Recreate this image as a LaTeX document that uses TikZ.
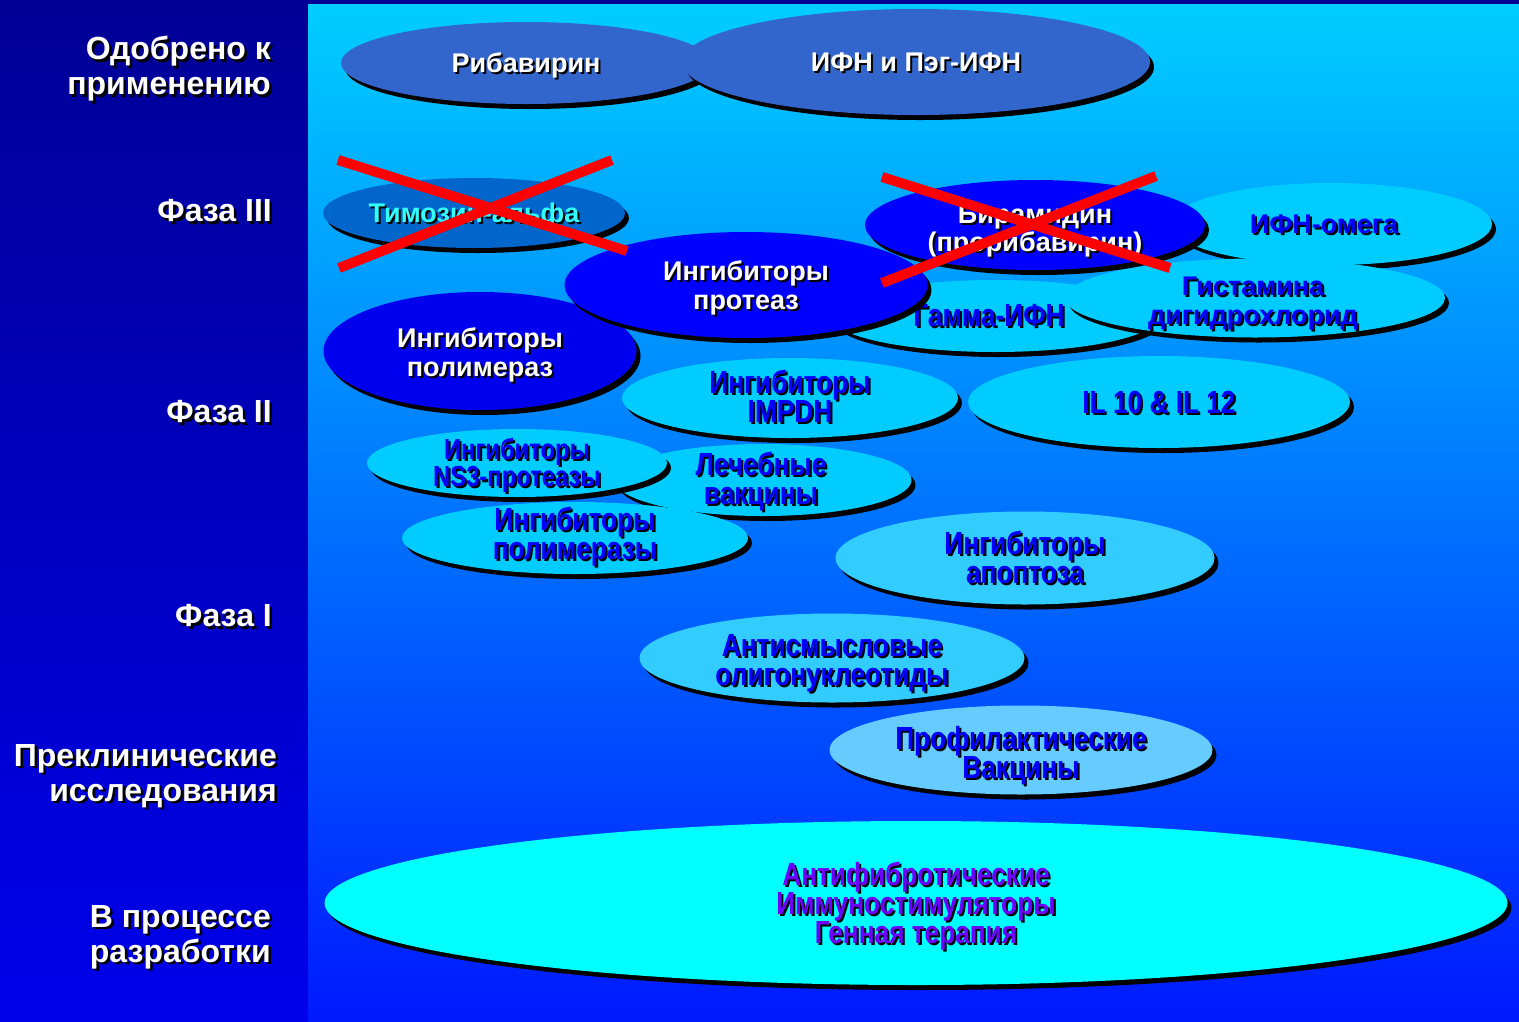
\documentclass[tikz,border=0pt]{standalone}
\usepackage{fontspec}
\setmainfont{Liberation Sans}
\newfontfamily\narrowfam{Liberation Sans}[FakeStretch=0.82]
\usetikzlibrary{shapes.geometric,shadows}
\definecolor{navyT}{RGB}{0,0,150}
\definecolor{navyB}{RGB}{0,0,235}
\definecolor{bgT}{RGB}{0,206,255}
\definecolor{bgM}{RGB}{0,140,255}
\definecolor{bgB}{RGB}{0,25,255}
\definecolor{ribacol}{RGB}{51,102,204}
\definecolor{thymcol}{RGB}{0,102,204}
\definecolor{deepb}{RGB}{0,0,255}
\definecolor{polb}{RGB}{0,0,238}
\definecolor{cyA}{RGB}{0,204,255}
\definecolor{cyB}{RGB}{51,204,255}
\definecolor{cyC}{RGB}{102,204,255}
\definecolor{aqua}{RGB}{0,255,255}
\definecolor{violettext}{RGB}{110,0,255}
\definecolor{tcyan}{RGB}{51,255,255}
\definecolor{xred}{RGB}{255,0,0}
\newcommand\wfont{\fontsize{27}{29}\selectfont\bfseries}
\newcommand\nfont{\narrowfam\fontsize{32}{29}\selectfont\bfseries}
\newcommand\nsfont{\narrowfam\fontsize{29}{25}\selectfont\bfseries}
\newcommand\sidefont{\fontsize{32}{35}\selectfont\bfseries}
\tikzset{
  blobshape/.style={ellipse, inner sep=0pt, outer sep=0pt,
    drop shadow={shadow xshift=4pt, shadow yshift=-5pt, fill=black, opacity=1}},
  lbl/.style={align=center, inner sep=0pt},
  side/.style={align=right, inner sep=0pt, anchor=east, font=\sidefont},
  cross/.style={xred, line width=10pt},
  wtxt/.style={text=white, font=\wfont},
  btxt/.style={text=deepb, font=\wfont},
  ntxt/.style={text=deepb, font=\nfont},
}
% #1 name, #2 cx, #3 cy, #4 width, #5 height, #6 fill, #7 text style, #8 text, #9 text offset
\newcommand\drugoval[9]{%
  \node[blobshape, fill=#6, minimum width=#4pt, minimum height=#5pt] (#1) at (#2,#3) {};
  \coordinate (#1-c) at ([shift={(#9)}]#1.center);
  \node[lbl, #7, text=black] (#1-s) at ([xshift=2pt,yshift=-2pt]#1-c) {#8};
  \node[lbl, #7] (#1-t) at (#1-c) {#8};}
\newcommand\sidelab[4]{%
  \node[side, text=black] (#1-s) at ([xshift=2.5pt,yshift=-2.5pt]#2,#3) {#4};
  \node[side, text=white] (#1) at (#2,#3) {#4};}
\begin{document}
\begin{tikzpicture}[x=1pt,y=-1pt]
\useasboundingbox (0,0) rectangle (1519,1021);
\shade[top color=navyT, bottom color=navyB] (0,0) rectangle (308,1021);
\shade[top color=bgT, middle color=bgM, bottom color=bgB] (308,4) rectangle (1519,1021);
\fill[navyT] (308,0) rectangle (1519,4);

% side labels
\sidelab{approved}{271}{69}{Одобрено к\\применению}
\sidelab{ph3}{272}{211}{Фаза III}
\sidelab{ph2}{272}{412}{Фаза II}
\sidelab{ph1}{272}{616}{Фаза I}
\sidelab{precl}{277}{776}{Преклинические\\исследования}
\sidelab{dev}{271}{937}{В процессе\\разработки}

% ellipses, back to front
\drugoval{rib}{526}{63}{370}{82}{ribacol}{wtxt}{Рибавирин}{0,2}
\drugoval{ifn}{916}{62}{468}{106}{ribacol}{wtxt}{ИФН и Пэг-ИФН}{0,0}
\drugoval{omega}{1331}{224}{322}{82}{cyA}{btxt}{ИФН-омега}{-7,0}
\drugoval{gamma}{995}{316}{330}{72}{cyA}{ntxt}{Гамма-ИФН}{-6,0}
\drugoval{hist}{1255}{298}{380}{79}{cyA}{btxt}{Гистамина\\дигидрохлорид}{-2,6}
\drugoval{bira}{1035}{225}{340}{90}{deepb}{wtxt,font=\fontsize{27}{28}\selectfont\bfseries}{Бирамидин\\(прорибавирин)}{0,6}
\drugoval{thym}{474}{213}{302}{70}{thymcol}{wtxt,text=tcyan}{Тимозин-альфа}{0,3}
\drugoval{impdh}{790}{398}{336}{80}{cyA}{ntxt}{Ингибиторы\\IMPDH}{0,-2}
\drugoval{il}{1159}{402}{382}{92}{cyA}{ntxt}{IL 10 \& IL 12}{0,0}
\drugoval{pol}{480}{351}{313}{118}{polb}{wtxt}{Ингибиторы\\полимераз}{0,4}
\drugoval{prot}{746}{285}{363}{106}{deepb}{wtxt}{Ингибиторы\\протеаз}{0,3}
\drugoval{vac}{763}{480}{297}{72}{cyA}{ntxt}{Лечебные\\вакцины}{-2,1}
\drugoval{ns3}{517}{463}{300}{68}{cyA}{ntxt,font=\nsfont}{Ингибиторы\\NS3-протеазы}{0,2}
\drugoval{polz}{575}{538}{346}{72}{cyA}{ntxt}{Ингибиторы\\полимеразы}{0,-1}
\drugoval{apo}{1025}{558}{379}{93}{cyB}{ntxt}{Ингибиторы\\апоптоза}{0,-1}
\drugoval{anti}{832}{658}{385}{89}{cyB}{ntxt}{Антисмысловые\\олигонуклеотиды}{0,5}
\drugoval{prof}{1021}{750}{383}{89}{cyC}{ntxt}{Профилактические\\Вакцины}{0,6}
\drugoval{big}{916}{903}{1183}{164}{aqua}{ntxt,text=violettext}{Антифибротические\\Иммуностимуляторы\\Генная терапия}{0,3}

% red crosses
\coordinate (ta1) at (338,160);
\coordinate (tb1) at (627,251);
\coordinate (ta2) at (339,268);
\coordinate (tb2) at (612,160);
\coordinate (ba1) at (882,177);
\coordinate (bb1) at (1170,268);
\coordinate (ba2) at (882,283);
\coordinate (bb2) at (1156,176);
\draw[cross] (ta1) -- (tb1);
\draw[cross] (ta2) -- (tb2);
\draw[cross] (ba1) -- (bb1);
\draw[cross] (ba2) -- (bb2);
\end{tikzpicture}
\end{document}
